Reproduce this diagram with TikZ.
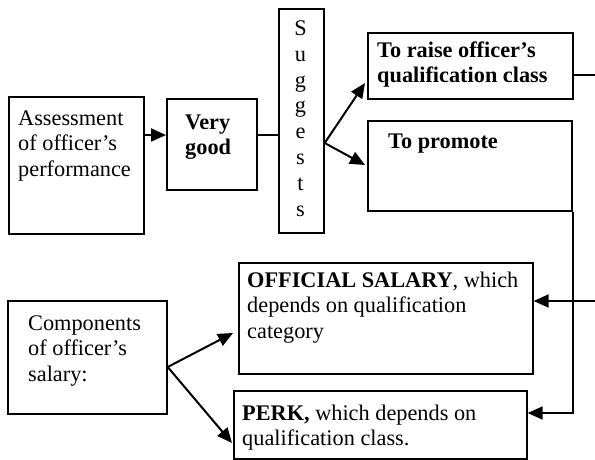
\documentclass[tikz,border=0pt]{standalone}
\usepackage{fontspec}
\setmainfont{Liberation Serif}
\usetikzlibrary{arrows.meta}
\begin{document}
\begin{tikzpicture}[x=1pt,y=-1pt,
  box/.style={draw, line width=1.7pt, inner sep=0pt, anchor=north west},
  txt/.style={inner sep=0pt, anchor=base west, align=left, font=\fontsize{22.3}{25.5}\selectfont},
  txtb/.style={txt, font=\fontsize{22.3}{25.5}\selectfont\bfseries},
  arr/.style={line width=2pt, -{Triangle[length=15pt,width=13pt]}},
  thinln/.style={line width=1.2pt}]
\useasboundingbox (0,0) rectangle (595,459);
% boxes
\node[box, minimum width=135pt, minimum height=137pt] (assess) at (8,96) {};
\node[box, minimum width=90pt, minimum height=91pt] (vg) at (166,98) {};
\node[box, minimum width=45pt, minimum height=224pt] (sugg) at (278,8) {};
\node[box, minimum width=205pt, minimum height=66pt] (raise) at (367,32) {};
\node[box, minimum width=204pt, minimum height=90pt] (prom) at (367,120) {};
\node[box, minimum width=159pt, minimum height=113pt] (comp) at (7,300) {};
\node[box, minimum width=294pt, minimum height=111pt] (offi) at (238,262) {};
\node[box, minimum width=293pt, minimum height=68pt] (perk) at (233,390) {};
% texts (anchored at the baseline of their last line)
\node[txt] (assesst) at (18,176) {Assessment\\of officer’s\\performance};
\node[txtb] (vgt) at (185,154.5) {Very\\good};
\node[txt, anchor=base, align=center, font=\fontsize{22.3}{25.8}\selectfont] (suggt) at (300.5,216) {S\\u\\g\\g\\e\\s\\t\\s};
\node[txtb] (raiset) at (377,82.5) {To raise officer’s\\qualification class};
\node[txtb] (promt) at (388,148) {To promote};
\node[txt] (compt) at (28,381) {Components\\of officer’s\\salary:};
\node[txt] (offit) at (247,338) {\textbf{OFFICIAL SALARY}, which\\depends on qualification\\category};
\node[txt] (perkt) at (242,445.5) {\textbf{PERK,} which depends on\\qualification class.};
% free ends
\coordinate (edgeA) at (595,75);
\coordinate (edgeB) at (597,301);
% connectors
\draw[arr] ([yshift=-39pt]assess.north east) -- ([yshift=-37pt]vg.north west);
\draw[thinln] ([yshift=-37pt]vg.north east) -- ([yshift=-127pt]sugg.north west);
\draw[arr] ([yshift=-135pt]sugg.north east) -- ([xshift=-2pt,yshift=-51pt]raise.north west);
\draw[arr] ([yshift=-135pt]sugg.north east) -- ([xshift=-2pt,yshift=-45pt]prom.north west);
\draw[thinln] ([yshift=-43pt]raise.north east) -- (edgeA);
\draw[arr] (prom.south east) |- ([yshift=-23pt]perk.north east);
\draw[arr] (edgeB) -- ([yshift=-39pt]offi.north east);
\draw[arr] ([yshift=-67pt]comp.north east) -- ([xshift=-5pt,yshift=-71pt]offi.north west);
\draw[arr] ([yshift=-67pt]comp.north east) -- ([xshift=-1pt,yshift=-53pt]perk.north west);
\end{tikzpicture}
\end{document}
